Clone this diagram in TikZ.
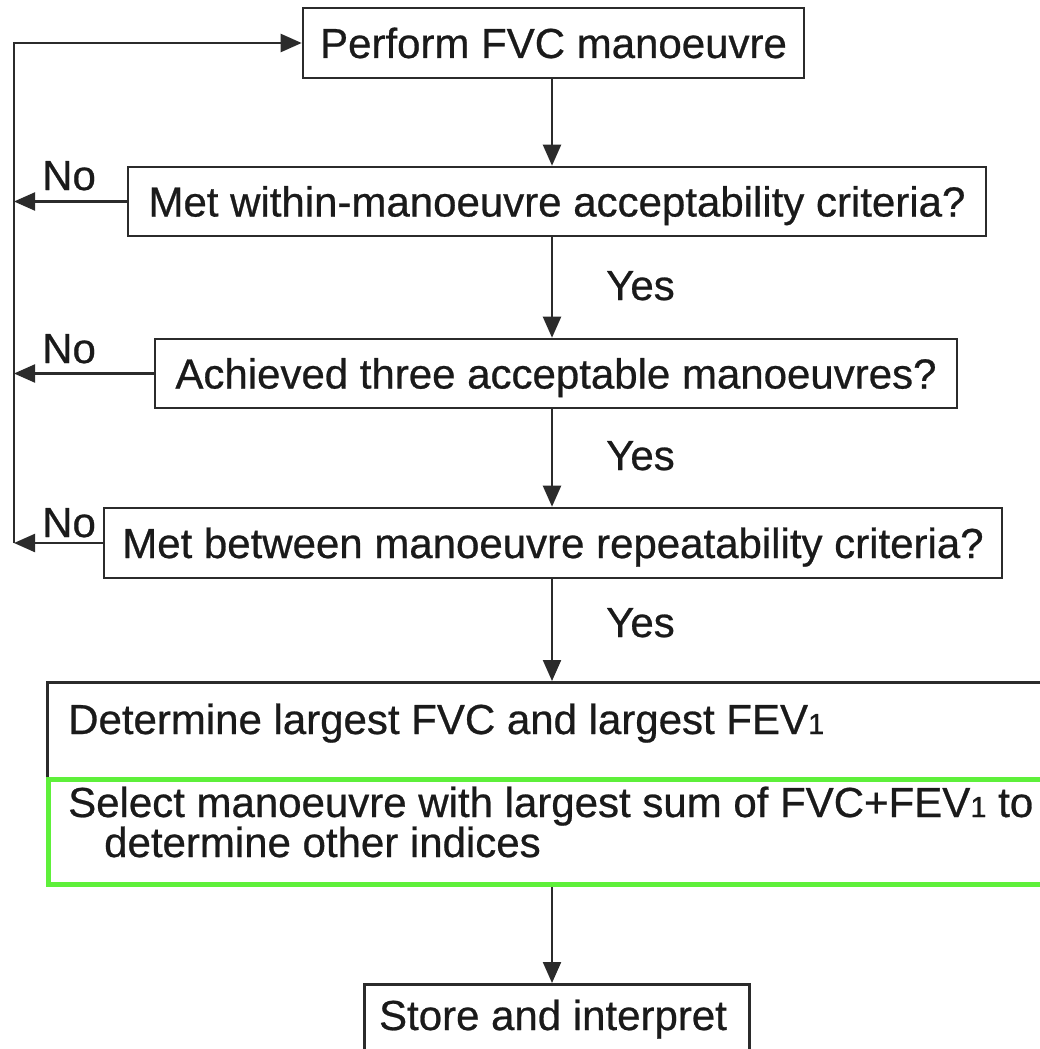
\documentclass[tikz,border=0pt]{standalone}
\usepackage{fontspec}
\setmainfont{Liberation Sans}[BoldFont={Liberation Sans},BoldFeatures={FakeBold=0.6}]
\usetikzlibrary{arrows.meta}
\definecolor{ink}{HTML}{2B2B2B}
\definecolor{txt}{HTML}{1A1A1A}
\definecolor{hl}{RGB}{94,240,58}
\newcommand\smallsub[1]{{\fontsize{29}{29}\selectfont #1}}
\begin{document}
\begin{tikzpicture}[x=1pt,y=-1pt,
  font=\fontsize{42}{40}\selectfont\bfseries, text=txt,
  box/.style={draw=ink, line width=2.6pt, rectangle, inner sep=0pt,
    text height=30pt, text depth=0pt},
  lbl/.style={inner sep=0pt, anchor=base west},
  arr/.style={draw=ink, line width=2.2pt, -{Triangle[length=21pt,width=18pt]}},
  line/.style={draw=ink, line width=2.2pt}]
\path[use as bounding box, clip] (0,0) rectangle (1040,1049);
\fill[white] (0,0) rectangle (1040,1049);

% decision boxes
\node[box, minimum width=501pt, minimum height=70pt] (b1) at (553.5,43) {Perform FVC manoeuvre};
\node[box, minimum width=858pt, minimum height=69pt] (b2) at (557,201.5) {Met within-manoeuvre acceptability criteria?};
\node[box, minimum width=802pt, minimum height=69pt] (b3) at (556,373.5) {Achieved three acceptable manoeuvres?};
\node[box, minimum width=898pt, minimum height=70pt] (b4) at (553,543) {Met between manoeuvre repeatability criteria?};

% determine / select box
\node[box, anchor=north west, minimum width=1040pt, minimum height=201pt] (det) at (46,681) {};
\node[draw=hl, line width=5pt, rectangle, inner sep=0pt, anchor=north west,
      minimum width=1040pt, minimum height=105pt] (sel) at (46,777) {};
\node[lbl] (dett) at (68,734) {Determine largest FVC and largest FEV\smallsub{1}};
\node[lbl] (selt1) at (68,817) {Select manoeuvre with largest sum of FVC+FEV\smallsub{1} to};
\node[lbl] (selt2) at (104,857) {determine other indices};

% store box
\node[box, anchor=north west, minimum width=385pt, minimum height=100pt] (st) at (363,983) {};
\node[inner sep=0pt, anchor=base] (stt) at (553,1030) {Store and interpret};

% spine and loop
\coordinate (spine) at (552,0);
\coordinate (loop) at (14,0);

\draw[arr] (b1.south -| spine) -- (b2.north -| spine);
\draw[arr] (b2.south -| spine) -- (b3.north -| spine);
\draw[arr] (b3.south -| spine) -- (b4.north -| spine);
\draw[arr] (b4.south -| spine) -- (det.north -| spine);
\draw[arr] (sel.south -| spine) -- (st.north -| spine);

\draw[arr] (b2.west) -- (b2.west -| loop);
\draw[arr] (b3.west) -- (b3.west -| loop);
\draw[arr] (b4.west) -- (b4.west -| loop);
\draw[arr] (b4.west -| loop) -- (b1.west -| loop) -- (b1.west);

% labels
\node[lbl] (no1) at (42,190) {No};
\node[lbl] (no2) at (42,363) {No};
\node[lbl] (no3) at (42,537) {No};
\node[lbl] (yes1) at (606,300) {Yes};
\node[lbl] (yes2) at (606,470) {Yes};
\node[lbl] (yes3) at (606,637) {Yes};
\end{tikzpicture}
\end{document}
